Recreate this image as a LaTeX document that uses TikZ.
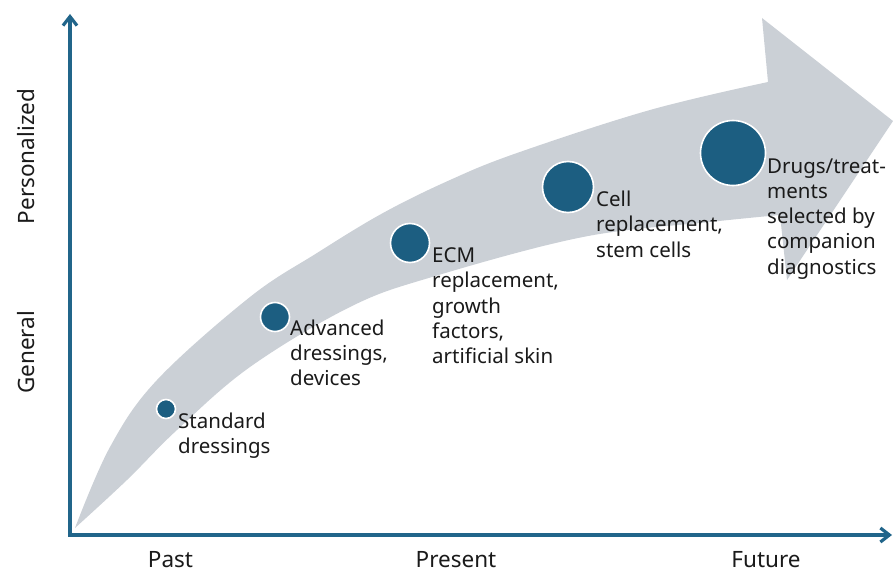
\documentclass[tikz,border=0pt]{standalone}
\usepackage{fontspec}
\setmainfont{Noto Sans}
\usetikzlibrary{arrows.meta}
\definecolor{bandgray}{RGB}{203,208,214}
\definecolor{dotblue}{RGB}{28,94,129}
\definecolor{axisblue}{RGB}{33,101,138}
\definecolor{ink}{RGB}{26,26,26}
\tikzset{
  axisline/.style={draw=axisblue, line width=3.2pt, -{Straight Barb[length=9pt,width=14pt]}},
  stagedot/.style={circle, fill=dotblue, draw=white, line width=1.6pt, inner sep=0pt},
  % anchored at the baseline of the last line
  stagetext/.style={anchor=base west, align=left, inner sep=0pt, text=ink,
    font=\fontsize{20.5}{25.2}\selectfont},
  axistext/.style={anchor=base, inner sep=0pt, text=ink,
    font=\fontsize{22.5}{27}\selectfont},
}
\begin{document}
\begin{tikzpicture}[x=1pt,y=-1pt]
\useasboundingbox (0,0) rectangle (893,572);

% curved progress band with its arrow head
\fill[bandgray]
  plot[smooth, tension=0.6] coordinates {(75,528) (110,447) (157,380) (250,297) (317,253) (383,213) (450,180) (517,153) (650,110) (768,82)}
  -- (762,18) -- (893,121) -- (787,280)
  -- plot[smooth, tension=0.6] coordinates {(780,215) (710,222) (583,237) (432,277) (350,307) (250,367) (177,430) (127,480) (75,528)}
  -- cycle;

% axes
\coordinate (origin) at (70,535);
\coordinate (ytop) at (70,14);
\coordinate (xend) at (892,535);
\draw[axisline] (origin) -- (ytop);
\draw[axisline] ([xshift=-1.6pt]origin) -- (xend);

% axis labels
\node[axistext] (past) at (170.5,567) {Past};
\node[axistext] (present) at (456,567) {Present};
\node[axistext] (future) at (766,567) {Future};
\node[axistext, rotate=90] (personal) at (34,156.5) {Personalized};
\node[axistext, rotate=90] (general) at (34,352.5) {General};

% stages
\node[stagedot, minimum size=19pt] (s1) at (166,409) {};
\node[stagedot, minimum size=29pt] (s2) at (275,317) {};
\node[stagedot, minimum size=39pt] (s3) at (410,243) {};
\node[stagedot, minimum size=51pt] (s4) at (568,187) {};
\node[stagedot, minimum size=65pt] (s5) at (733,153) {};

\node[stagetext] (t1) at (178,453.2) {Standard\\dressings};
\node[stagetext] (t2) at (290,385.4) {Advanced\\dressings,\\devices};
\node[stagetext] (t3) at (432,363.5) {ECM\\replacement,\\growth\\factors,\\artificial skin};
\node[stagetext] (t4) at (596,257.1) {Cell\\replacement,\\stem cells};
\node[stagetext] (t5) at (767,274.1) {Drugs/treat-\\ments\\selected by\\companion\\diagnostics};
\end{tikzpicture}
\end{document}
